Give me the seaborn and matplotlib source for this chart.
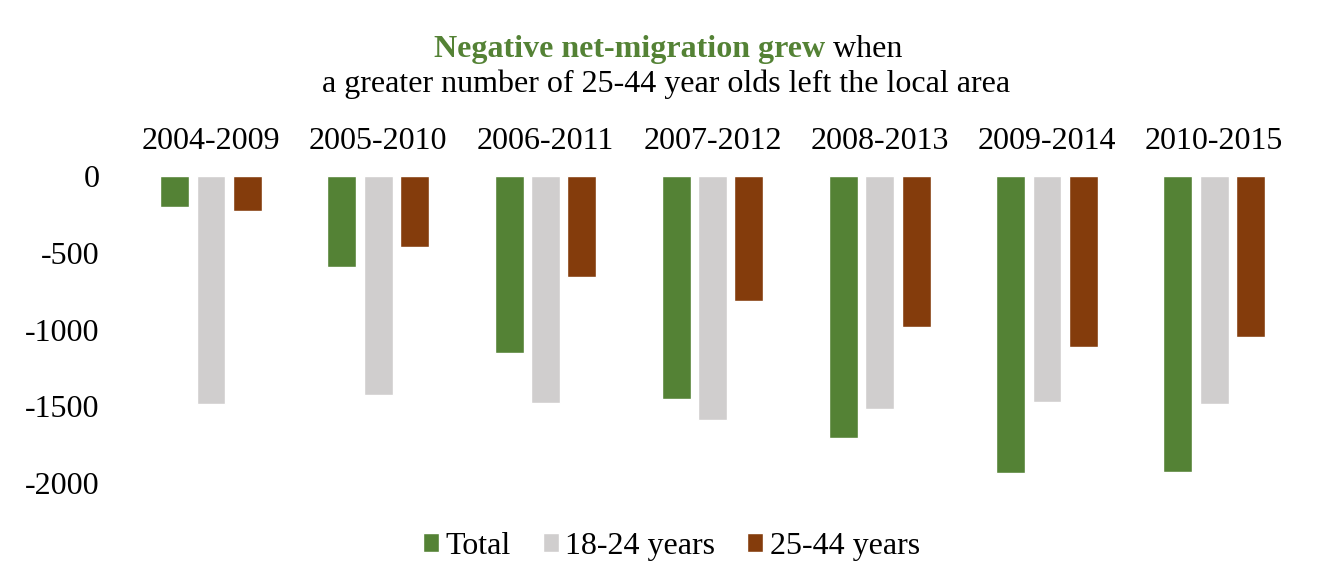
import pandas as pd
import matplotlib
matplotlib.use("Agg")
import matplotlib.pyplot as plt
import seaborn as sns

# values
periods = ["2004-2009", "2005-2010", "2006-2011", "2007-2012",
           "2008-2013", "2009-2014", "2010-2015"]
total = [-203, -591, -1154, -1452, -1702, -1931, -1925]
age_18_24 = [-1487, -1428, -1476, -1590, -1519, -1474, -1487]
age_25_44 = [-231, -462, -656, -811, -986, -1111, -1047]
series_names = ["Total", "18-24 years", "25-44 years"]
colors = ["#548235", "#D0CECE", "#843C0C"]

df = pd.DataFrame({"period": periods, "Total": total,
                   "18-24 years": age_18_24, "25-44 years": age_25_44})
long_df = df.melt(id_vars="period", var_name="group", value_name="net")

sns.set_theme(style="white")
plt.rcParams["font.family"] = ["Liberation Serif", "DejaVu Serif"]
plt.rcParams["text.color"] = "black"
plt.rcParams["xtick.color"] = "black"
plt.rcParams["ytick.color"] = "black"

fs = 23

fig = plt.figure(figsize=(13.27, 5.8), dpi=100)
ax = fig.add_axes([0.096, 0.1667, 0.882, 0.530])

sns.barplot(data=long_df, x="period", y="net", hue="group",
            hue_order=series_names, palette=colors, width=0.65, gap=0.2,
            saturation=1, ax=ax)

ax.set_ylim(-2000, 0)
ax.set_yticks([0, -500, -1000, -1500, -2000])
ax.set_yticklabels(["0", "-500", "-1000", "-1500", "-2000"])
ax.xaxis.tick_top()
ax.tick_params(axis="x", length=0, pad=14, labelsize=fs, labelcolor="black")
ax.tick_params(axis="y", length=0, pad=20, labelsize=fs, labelcolor="black")
ax.set_xlabel("")
ax.set_ylabel("")
for s in ax.spines.values():
    s.set_visible(False)

leg = ax.legend(loc="center", bbox_to_anchor=(0.506, 0.058),
                bbox_transform=fig.transFigure, ncol=3, frameon=False,
                fontsize=fs, handlelength=0.5, handleheight=0.5,
                handletextpad=0.2, columnspacing=1.0)
for t in leg.get_texts():
    t.set_color("black")

# two-line title, first part bold green
fig.canvas.draw()
renderer = fig.canvas.get_renderer()
t1 = fig.text(0, 0.914, "Negative net-migration grew", color="#548235",
              fontsize=fs, fontweight="bold", va="center", ha="left")
t2 = fig.text(0, 0.914, " when", color="black", fontsize=fs,
              va="center", ha="left")
w1 = t1.get_window_extent(renderer).width
w2 = t2.get_window_extent(renderer).width
start = 668 - (w1 + w2) / 2
t1.set_x(start / fig.bbox.width)
t2.set_x((start + w1) / fig.bbox.width)
fig.text(666 / fig.bbox.width, 0.855,
         "a greater number of 25-44 year olds left the local area",
         fontsize=fs, ha="center", va="center", color="black")

fig.savefig("out.png", dpi=100)
